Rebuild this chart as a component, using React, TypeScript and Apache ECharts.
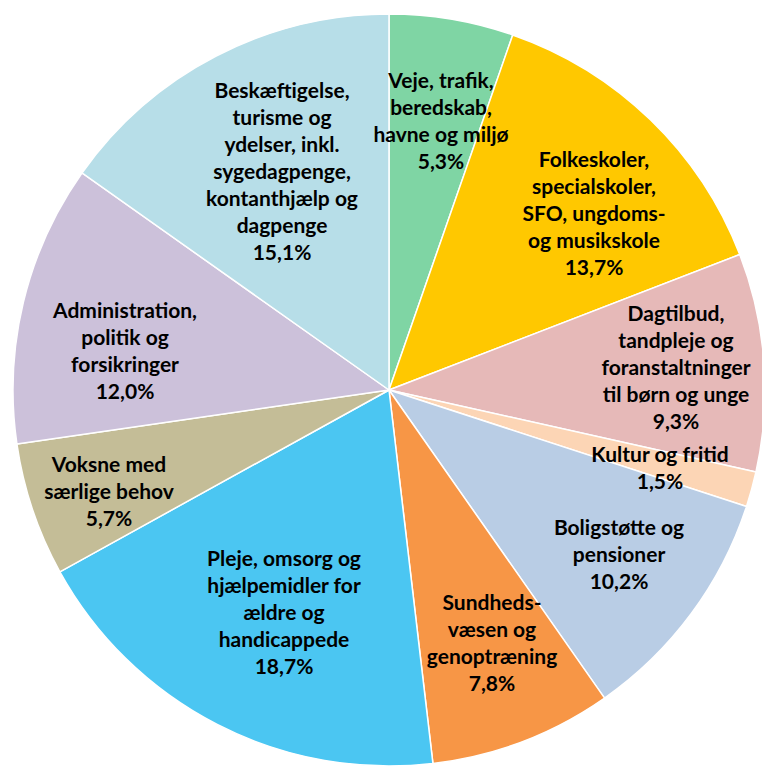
import React, { useEffect, useRef } from "react";
import * as echarts from "echarts";

const categories = [
  "Veje, trafik,\nberedskab,\nhavne og miljø",
  "Folkeskoler,\nspecialskoler,\nSFO, ungdoms-\nog musikskole",
  "Dagtilbud,\ntandpleje og\nforanstaltninger\ntil børn og unge",
  "Kultur og fritid",
  "Boligstøtte og\npensioner",
  "Sundheds-\nvæsen og\ngenoptræning",
  "Pleje, omsorg og\nhjælpemidler for\nældre og\nhandicappede",
  "Voksne med\nsærlige behov",
  "Administration,\npolitik og\nforsikringer",
  "Beskæftigelse,\nturisme og\nydelser, inkl.\nsygedagpenge,\nkontanthjælp og\ndagpenge",
];
const values = [5.3, 13.7, 9.3, 1.5, 10.2, 7.8, 18.7, 5.7, 12.0, 15.1];
const colors = [
  "#7fd5a4",
  "#ffc800",
  "#e6b9b8",
  "#fcd5b5",
  "#b9cde5",
  "#f79646",
  "#4bc6f2",
  "#c4bd97",
  "#ccc1da",
  "#b7dee8",
];
// label block centres (page px)
const labelPos: [number, number][] = [
  [441, 120],
  [594, 212],
  [676, 366],
  [660, 467],
  [619, 553],
  [492, 642],
  [284, 611],
  [109, 490],
  [125, 350],
  [282, 170],
];

export default function App() {
  const ref = useRef<HTMLDivElement>(null);
  useEffect(() => {
    const chart = echarts.init(ref.current!, null, { renderer: "svg" });
    chart.setOption({
      animation: false,
      series: [
        {
          type: "pie",
          center: [389, 390],
          radius: 376,
          startAngle: 90,
          clockwise: true,
          avoidLabelOverlap: false,
          itemStyle: { borderColor: "#ffffff", borderWidth: 1.5 },
          label: {
            show: true,
            position: "inside",
            formatter: (p: any) =>
              p.name + "\n" + p.value.toFixed(1).replace(".", ",") + "%",
            color: "#000000",
            fontFamily: "Lato",
            fontWeight: "bold",
            fontSize: 21,
            lineHeight: 27,
            align: "center",
            verticalAlign: "middle",
          },
          labelLine: { show: false },
          labelLayout: (params: any) => {
            const p = labelPos[params.dataIndex];
            return { x: p[0], y: p[1], align: "center", verticalAlign: "middle" };
          },
          data: values.map((v, i) => ({
            name: categories[i],
            value: v,
            itemStyle: { color: colors[i] },
          })),
        },
      ],
    });
    return () => chart.dispose();
  }, []);
  return (
    <div
      ref={ref}
      style={{ position: "fixed", left: 0, top: 0, width: 762, height: 769, background: "#fff" }}
    />
  );
}
